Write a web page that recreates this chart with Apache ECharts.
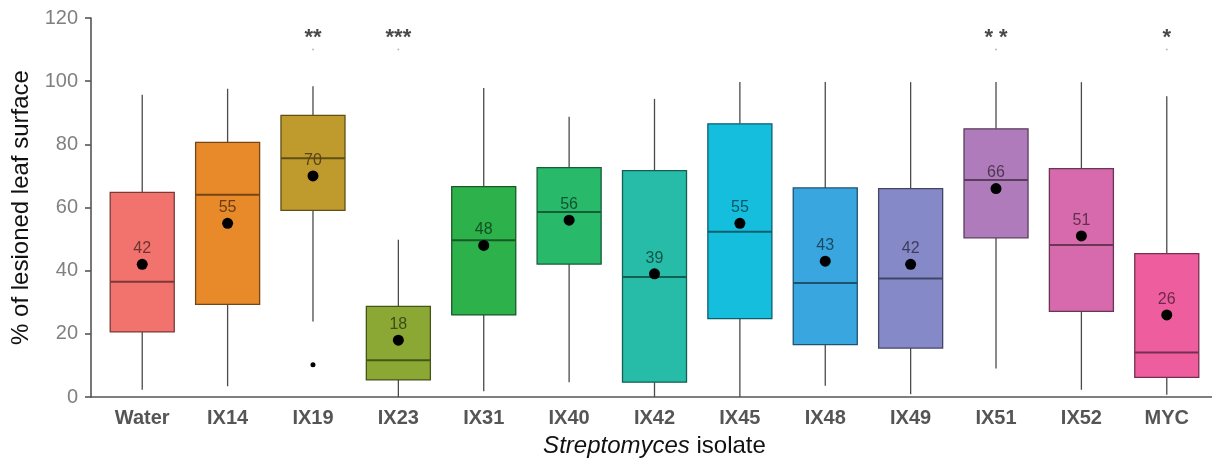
<!DOCTYPE html>
<html>
<head>
<meta charset="utf-8">
<script src="https://cdn.jsdelivr.net/npm/echarts@6/dist/echarts.min.js"></script>
<style>
html,body{margin:0;padding:0;background:#fff;}
#chart{width:1212px;height:461px;}
</style>
</head>
<body>
<div id="chart"></div>
<script>
// ---- data ----
var categories = ['Water','IX14','IX19','IX23','IX31','IX40','IX42','IX45','IX48','IX49','IX51','IX52','MYC'];
var whiskerLow  = [2.3, 3.4, 23.9, 0.0, 1.8, 4.7, 0.0, 0.0, 3.6, 0.9, 9.0, 2.3, 0.7];
var q1          = [20.6, 29.3, 59.1, 5.4, 26.0, 42.1, 4.7, 24.8, 16.6, 15.5, 50.4, 27.1, 6.2];
var median      = [36.5, 64.0, 75.6, 11.6, 49.6, 58.6, 38.0, 52.3, 36.1, 37.5, 68.7, 48.1, 14.1];
var q3          = [64.8, 80.6, 89.2, 28.7, 66.6, 72.6, 71.7, 86.5, 66.2, 66.0, 84.9, 72.3, 45.4];
var whiskerHigh = [95.7, 97.6, 98.4, 49.8, 97.8, 88.7, 94.4, 99.7, 99.7, 99.7, 99.7, 99.7, 95.2];
var means       = [42, 55, 70, 18, 48, 56, 39, 55, 43, 42, 66, 51, 26];
var outliers    = [[2, 10.2]];
var starCats    = [2, 3, 10, 12];
var starText    = ['**', '***', '* *', '*'];
var starLevel   = 115;
var dotLevel    = 110;

// ---- style ----
var fills = ['#F2736E','#E8892A','#BF9B2E','#8BA834','#2DB24B','#28B96A','#27BCA7','#16BEDD','#3AA6DF','#8689C8','#B07BBA','#D66AAC','#EE5E9F'];
function shade(hex, f){
  var n = parseInt(hex.slice(1),16);
  var r = Math.round(((n>>16)&255)*f), g = Math.round(((n>>8)&255)*f), b = Math.round((n&255)*f);
  return 'rgb('+r+','+g+','+b+')';
}
var FONT = 'Liberation Sans, Arial, sans-serif';

var boxData = categories.map(function(c,i){ return [i, whiskerLow[i], q1[i], median[i], q3[i], whiskerHigh[i]]; });
var meanData = means.map(function(m,i){ return {value:[i,m], label:{color: shade(fills[i],0.45)}}; });
var starData = starCats.map(function(c,k){ return {value:[c, starLevel], label:{formatter: starText[k]}}; });
var dotData = starCats.map(function(c){ return [c, dotLevel]; });
var catIdx = categories.map(function(c,i){return i;});

var chart = echarts.init(document.getElementById('chart'), null, {renderer:'canvas'});
chart.setOption({
  animation:false,
  backgroundColor:'#fff',
  grid:{left:91, top:18, width:1127, height:379, containLabel:false, outerBoundsMode:'none'},
  xAxis:{
    type:'value', min:-0.6, max:12.6,
    splitLine:{show:false},
    axisLine:{show:true, onZero:false, lineStyle:{color:'#555', width:1.6}},
    axisTick:{show:false, customValues: catIdx},
    axisLabel:{
      customValues: catIdx,
      formatter:function(v){ return categories[Math.round(v)]; },
      color:'#555', fontSize:20, fontWeight:'bold', fontFamily:FONT, margin:11
    },
    name:'{i|Streptomyces} isolate',
    nameLocation:'middle', nameGap:37,
    nameTextStyle:{
      color:'#111', fontSize:24, fontFamily:FONT,
      rich:{i:{fontStyle:'italic', fontSize:24, color:'#111', fontFamily:FONT}}
    }
  },
  yAxis:{
    type:'value', min:0, max:120, interval:20,
    splitLine:{show:false},
    axisLine:{show:true, onZero:false, lineStyle:{color:'#555', width:1.6}},
    axisTick:{show:true, length:6, lineStyle:{color:'#555', width:1.6}},
    axisLabel:{color:'#808080', fontSize:20, fontFamily:FONT, margin:13},
    name:'% of lesioned leaf surface',
    nameLocation:'middle', nameGap:57,
    nameTextStyle:{color:'#111', fontSize:24, fontFamily:FONT}
  },
  series:[
    {
      type:'custom',
      data: boxData,
      encode:{x:0, y:[1,2,3,4,5]},
      renderItem:function(params, api){
        var i = api.value(0);
        var lo = api.coord([i, api.value(1)]);
        var pq1 = api.coord([i, api.value(2)]);
        var pmed = api.coord([i, api.value(3)]);
        var pq3 = api.coord([i, api.value(4)]);
        var hi = api.coord([i, api.value(5)]);
        var left = api.coord([i-0.375, 0])[0];
        var right = api.coord([i+0.375, 0])[0];
        var x = lo[0];
        var fill = fills[i];
        var dark = shade(fill, 0.5);
        return {
          type:'group',
          children:[
            {type:'line', shape:{x1:x, y1:hi[1], x2:x, y2:pq3[1]}, style:{stroke:'#4a4a4a', lineWidth:1.3}},
            {type:'line', shape:{x1:x, y1:pq1[1], x2:x, y2:lo[1]}, style:{stroke:'#4a4a4a', lineWidth:1.3}},
            {type:'rect', shape:{x:left, y:pq3[1], width:right-left, height:pq1[1]-pq3[1]}, style:{fill:fill, stroke:dark, lineWidth:1.3}},
            {type:'line', shape:{x1:left, y1:pmed[1], x2:right, y2:pmed[1]}, style:{stroke:dark, lineWidth:2}}
          ]
        };
      },
      z:2
    },
    {
      type:'scatter',
      data: meanData,
      symbolSize:11,
      itemStyle:{color:'#000', opacity:1},
      label:{show:true, position:'top', distance:2, fontSize:16, fontFamily:FONT,
        formatter:function(p){ return p.value[1]; }},
      z:5
    },
    {
      type:'scatter',
      data: outliers,
      symbolSize:5,
      itemStyle:{color:'#000', opacity:1},
      z:5
    },
    {
      type:'scatter',
      data: dotData,
      symbolSize:2,
      itemStyle:{color:'#bbb', opacity:1},
      z:5
    },
    {
      type:'scatter',
      data: starData,
      symbolSize:0,
      label:{show:true, position:'inside', offset:[0,4], fontSize:22, fontWeight:'bold', color:'#1a1a1a', fontFamily:FONT},
      z:5
    }
  ]
});
</script>
</body>
</html>
